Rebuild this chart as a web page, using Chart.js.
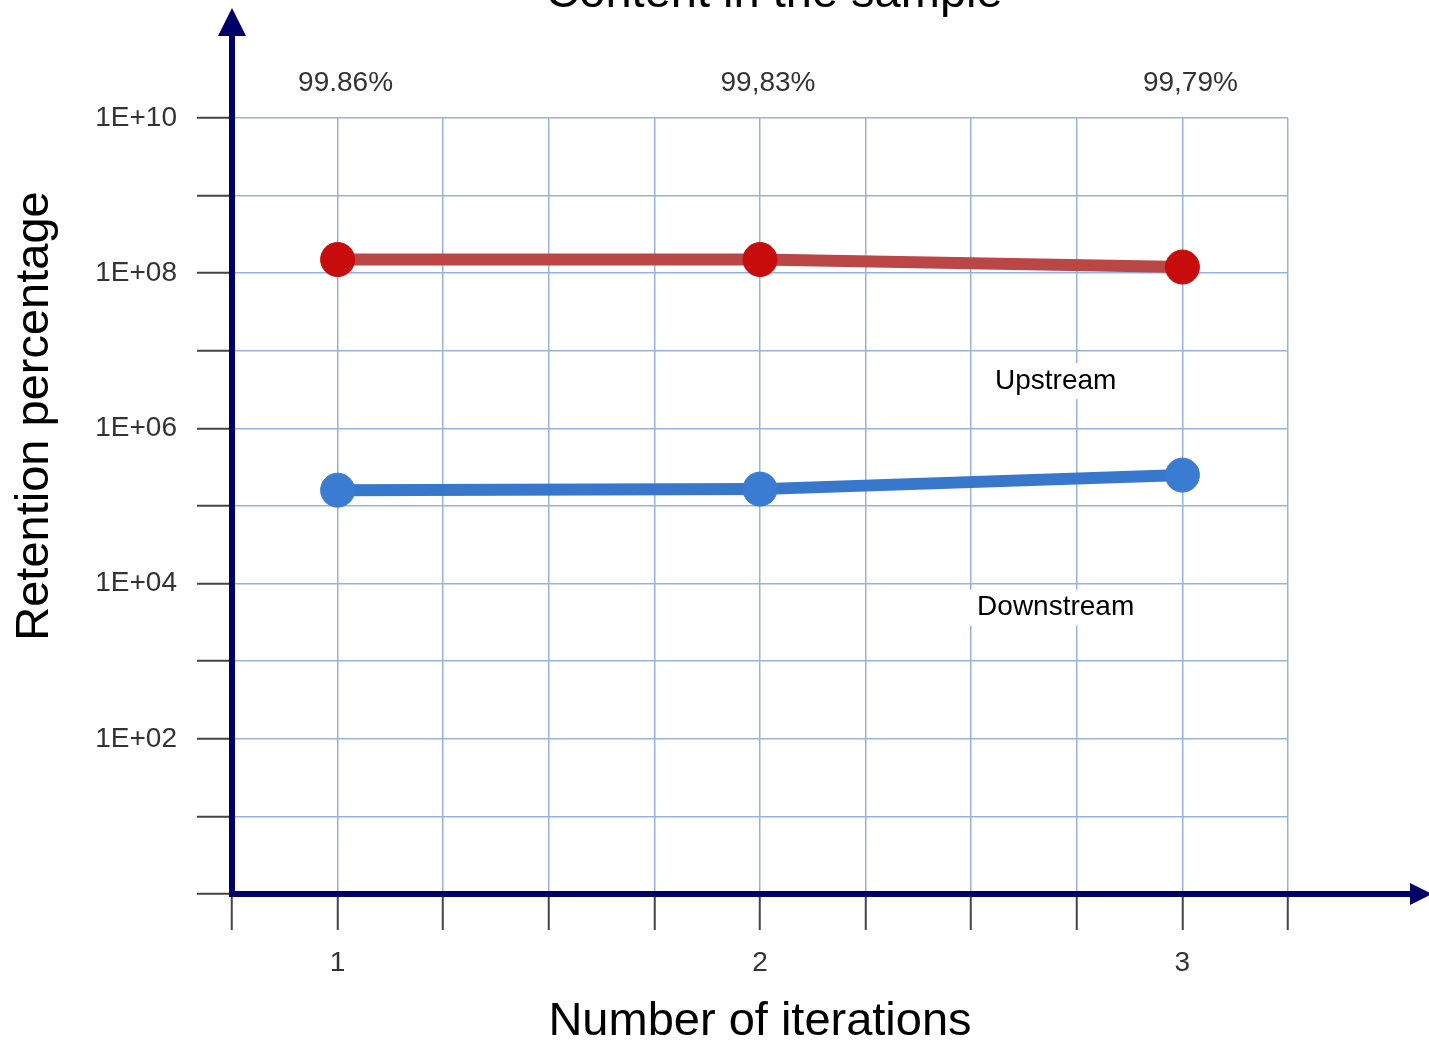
<!DOCTYPE html>
<html>
<head>
<meta charset="utf-8">
<title>Content in the sample</title>
<script src="https://cdn.jsdelivr.net/npm/chart.js@4.4.1/dist/chart.umd.min.js"></script>
<style>
  html, body { margin: 0; padding: 0; background: #fff; }
  #wrap { width: 1429px; height: 1046px; }
</style>
</head>
<body>
<div id="wrap"><canvas id="chart" width="1429" height="1046"></canvas></div>
<script>
// data
const iterations = [1, 2, 3];
const upstream = [1.5e8, 1.5e8, 1.2e8];
const downstream = [1.6e5, 1.65e5, 2.5e5];
const percentLabels = ["99.86%", "99,83%", "99,79%"];
const seriesNames = ["Upstream", "Downstream"];
const yExponents = [0, 1, 2, 3, 4, 5, 6, 7, 8, 9, 10];

const FONT = "'Liberation Sans', Arial, sans-serif";
const AXIS_COLOR = "#000066";
const GRID_COLOR = "#98b3da";
const TICK_COLOR = "#444444";
const LABEL_COLOR = "#333333";

function toPoints(values) {
  return values.map((v, i) => ({ x: iterations[i], y: v }));
}

const overlay = {
  id: "overlay",
  afterDraw(chart) {
    const { ctx, chartArea: a, scales } = chart;
    const x = scales.x, y = scales.y;
    const W = chart.width;
    ctx.save();

    // axes with arrow heads
    ctx.strokeStyle = AXIS_COLOR;
    ctx.fillStyle = AXIS_COLOR;
    ctx.lineWidth = 6;
    ctx.beginPath();
    ctx.moveTo(a.left, a.bottom + 3);
    ctx.lineTo(a.left, 32);
    ctx.stroke();
    ctx.beginPath();
    ctx.moveTo(a.left - 3, a.bottom);
    ctx.lineTo(W - 16, a.bottom);
    ctx.stroke();
    ctx.beginPath();
    ctx.moveTo(a.left, 8);
    ctx.lineTo(a.left - 14, 36);
    ctx.lineTo(a.left + 14, 36);
    ctx.closePath();
    ctx.fill();
    ctx.beginPath();
    ctx.moveTo(W + 3, a.bottom);
    ctx.lineTo(W - 19, a.bottom - 11);
    ctx.lineTo(W - 19, a.bottom + 11);
    ctx.closePath();
    ctx.fill();

    // percentages above the points
    ctx.font = "28px " + FONT;
    ctx.fillStyle = LABEL_COLOR;
    ctx.textAlign = "center";
    ctx.textBaseline = "middle";
    percentLabels.forEach((t, i) => {
      ctx.fillText(t, x.getPixelForValue(iterations[i]) + 8, a.top - 35);
    });

    // series labels on white boxes
    const anchors = [[2.7, Math.pow(10, 6.61)], [2.7, Math.pow(10, 3.69)]];
    ctx.font = "28px " + FONT;
    seriesNames.forEach((name, i) => {
      const px = x.getPixelForValue(anchors[i][0]);
      const py = y.getPixelForValue(anchors[i][1]);
      const w = ctx.measureText(name).width + 40;
      ctx.fillStyle = "#ffffff";
      ctx.fillRect(px - w / 2, py - 18, w, 36);
      ctx.fillStyle = "#000000";
      ctx.fillText(name, px, py);
    });

    // titles
    ctx.font = "47px " + FONT;
    ctx.fillStyle = "#000000";
    ctx.textBaseline = "alphabetic";
    ctx.fillText("Content in the sample", (a.left + a.right) / 2 + 14, 7);
    ctx.textBaseline = "middle";
    ctx.fillText("Number of iterations", (a.left + a.right) / 2, 1022);
    ctx.translate(35, 416);
    ctx.rotate(-Math.PI / 2);
    ctx.fillText("Retention percentage", 0, 0);
    ctx.restore();
  }
};

new Chart(document.getElementById("chart"), {
  type: "line",
  data: {
    datasets: [
      {
        label: seriesNames[0],
        data: toPoints(upstream),
        borderColor: "rgb(186,70,70)",
        borderWidth: 12,
        pointRadius: 17,
        pointBackgroundColor: "#c80c0c",
        pointBorderColor: "#c80c0c",
        pointBorderWidth: 1,
        tension: 0,
      },
      {
        label: seriesNames[1],
        data: toPoints(downstream),
        borderColor: "rgb(56,120,204)",
        borderWidth: 12,
        pointRadius: 17,
        pointBackgroundColor: "rgb(58,124,210)",
        pointBorderColor: "rgb(58,124,210)",
        pointBorderWidth: 1,
        tension: 0,
      },
    ],
  },
  options: {
    responsive: false,
    animation: false,
    layout: {
      padding: { top: 118, right: 141, left: 0, bottom: 0 },
    },
    plugins: {
      legend: { display: false },
      tooltip: { enabled: false },
    },
    scales: {
      x: {
        type: "linear",
        min: 0.75,
        max: 3.25,
        afterFit(scale) { scale.height = 152; },
        afterBuildTicks(scale) {
          const t = [];
          for (let v = 0.75; v <= 3.25; v += 0.25) t.push({ value: v });
          scale.ticks = t;
        },
        ticks: {
          autoSkip: false,
          maxRotation: 0,
          padding: 16,
          color: LABEL_COLOR,
          font: { family: FONT, size: 28 },
          callback: (v) => (Number.isInteger(v) ? String(v) : ""),
        },
        grid: {
          color: GRID_COLOR,
          lineWidth: 1.5,
          tickColor: TICK_COLOR,
          tickWidth: 2,
          tickLength: 36,
        },
        border: { display: false },
      },
      y: {
        type: "logarithmic",
        min: 1,
        max: 1e10,
        afterFit(scale) { scale.width = 232; },
        afterBuildTicks(scale) {
          scale.ticks = yExponents.map((e) => ({ value: Math.pow(10, e) }));
        },
        ticks: {
          autoSkip: false,
          padding: 20,
          color: LABEL_COLOR,
          font: { family: FONT, size: 28 },
          callback: (v) => {
            const e = Math.round(Math.log10(v));
            if (e === 0 || e % 2 !== 0) return "";
            return "1E+" + String(e).padStart(2, "0");
          },
        },
        grid: {
          color: GRID_COLOR,
          lineWidth: 1.5,
          tickColor: TICK_COLOR,
          tickWidth: 2,
          tickLength: 35,
        },
        border: { display: false },
      },
    },
  },
  plugins: [overlay],
});
</script>
</body>
</html>
